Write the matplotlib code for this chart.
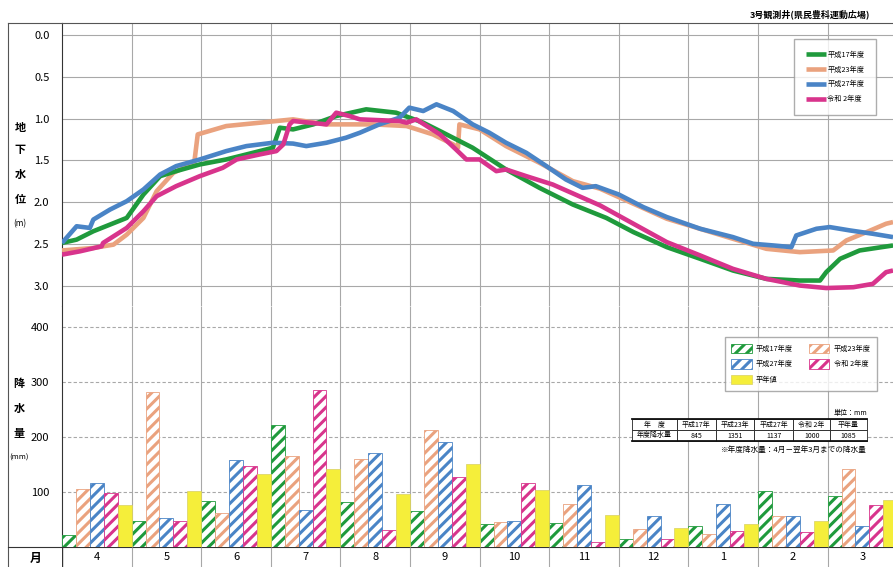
import matplotlib.pyplot as plt
from matplotlib.patches import Patch
from matplotlib.lines import Line2D

plt.rcParams['font.family'] = ['Noto Sans CJK JP', 'DejaVu Sans']
plt.rcParams['hatch.linewidth'] = 2.2

months = ['4', '5', '6', '7', '8', '9', '10', '11', '12', '1', '2', '3']
year_labels = ['平成17年度', '平成23年度', '平成27年度', '令和 2年度']
normal_label = '平年値'

# monthly rainfall (mm)
rain_h17 = [22, 47, 83, 221, 82, 65, 41, 44, 14, 39, 102, 93]
rain_h23 = [106, 282, 62, 165, 160, 212, 45, 79, 32, 24, 56, 141]
rain_h27 = [116, 52, 158, 68, 171, 190, 48, 112, 56, 79, 56, 39]
rain_r2 = [99, 47, 147, 286, 30, 128, 116, 9, 14, 29, 27, 76]
rain_normal = [76, 102, 133, 141, 96, 150, 104, 58, 35, 41, 48, 86]

# groundwater level (m below surface); t = months after 1 April
gw_h17_t = [0.0, 0.21, 0.45, 0.69, 0.93, 1.17, 1.41, 1.64, 1.98, 2.36, 2.65, 3.03, 3.13,
            3.32, 3.61, 3.94, 4.37, 4.80, 5.19, 5.43, 5.90, 6.38, 6.86, 7.34, 7.82, 8.21,
            8.69, 9.17, 9.64, 10.12, 10.60, 10.89, 10.98, 11.18, 11.46, 11.94]
gw_h17 = [2.49, 2.45, 2.35, 2.27, 2.19, 1.91, 1.69, 1.63, 1.55, 1.49, 1.43, 1.35, 1.11,
          1.13, 1.07, 0.97, 0.89, 0.93, 1.05, 1.15, 1.35, 1.61, 1.83, 2.03, 2.19, 2.36,
          2.54, 2.68, 2.82, 2.92, 2.94, 2.94, 2.84, 2.68, 2.58, 2.52]

gw_h23_t = [0.0, 0.45, 0.74, 0.93, 1.17, 1.36, 1.60, 1.90, 1.95, 2.36, 2.84, 3.32, 3.80,
            4.47, 4.95, 5.33, 5.62, 5.69, 5.71, 6.00, 6.38, 6.86, 7.34, 7.73, 8.69, 9.64,
            10.12, 10.60, 11.08, 11.27, 11.56, 11.84, 11.94]
gw_h23 = [2.58, 2.55, 2.51, 2.39, 2.19, 1.87, 1.65, 1.53, 1.19, 1.09, 1.05, 1.01, 1.07,
          1.07, 1.09, 1.19, 1.31, 1.35, 1.07, 1.13, 1.33, 1.53, 1.75, 1.84, 2.20, 2.44,
          2.56, 2.60, 2.58, 2.46, 2.36, 2.26, 2.24]

gw_h27_t = [0.0, 0.21, 0.40, 0.45, 0.69, 0.93, 1.17, 1.41, 1.64, 1.98, 2.36, 2.65, 3.03,
            3.32, 3.51, 3.80, 4.08, 4.28, 4.56, 4.85, 4.99, 5.19, 5.38, 5.62, 5.90, 6.14,
            6.38, 6.67, 6.96, 7.24, 7.48, 7.67, 8.00, 8.35, 8.69, 9.17, 9.64, 9.93, 10.22,
            10.48, 10.55, 10.84, 11.03, 11.32, 11.65, 11.94]
gw_h27 = [2.49, 2.29, 2.31, 2.21, 2.09, 1.99, 1.85, 1.67, 1.57, 1.49, 1.39, 1.33, 1.29,
          1.30, 1.33, 1.29, 1.23, 1.17, 1.07, 0.99, 0.87, 0.91, 0.83, 0.91, 1.07, 1.17,
          1.29, 1.41, 1.57, 1.73, 1.83, 1.81, 1.91, 2.06, 2.18, 2.32, 2.42, 2.50, 2.52,
          2.54, 2.40, 2.32, 2.30, 2.34, 2.38, 2.42]

gw_r2_t = [0.0, 0.26, 0.57, 0.59, 0.93, 1.17, 1.36, 1.64, 1.98, 2.31, 2.51, 2.84, 3.08,
           3.18, 3.27, 3.32, 3.56, 3.80, 3.94, 4.13, 4.28, 4.85, 4.95, 5.09, 5.43, 5.66,
           5.81, 6.00, 6.24, 6.38, 6.67, 7.05, 7.43, 7.73, 8.21, 8.69, 9.17, 9.64, 10.12,
           10.60, 10.98, 11.37, 11.65, 11.84, 11.94]
gw_r2 = [2.63, 2.59, 2.53, 2.49, 2.31, 2.11, 1.93, 1.81, 1.69, 1.59, 1.49, 1.43, 1.39,
         1.31, 1.07, 1.03, 1.05, 1.07, 0.93, 0.97, 1.01, 1.03, 1.05, 1.01, 1.19, 1.37,
         1.49, 1.49, 1.63, 1.61, 1.69, 1.79, 1.93, 2.04, 2.26, 2.48, 2.64, 2.80, 2.92,
         3.00, 3.03, 3.02, 2.98, 2.84, 2.82]

table_cols = ['年　度', '平成17年', '平成23年', '平成27年', '令和 2年', '平年量']
table_vals = ['年度降水量', '845', '1351', '1137', '1000', '1085']

colors = ['#1f9a3c', '#eaa27e', '#4a84c6', '#d8348c']
yellow = '#f5ee3a'
grid_c = '#a8a8a8'
frame_c = '#555555'

W, H = 893, 567
fig = plt.figure(figsize=(W / 100, H / 100), dpi=100)
fig.patch.set_facecolor('white')

def fx(px):
    return px / W

def fy(py):
    return 1 - py / H

left, split, base = 62, 306, 547
xmax = (W - left) / 69.6

ax1 = fig.add_axes([fx(left), fy(split), 1 - fx(left), fy(23) - fy(split)])
ax2 = fig.add_axes([fx(left), fy(base), 1 - fx(left), fy(split) - fy(base)])
ax3 = fig.add_axes([fx(left), 0, 1 - fx(left), fy(base)])

# ---- groundwater level ----
series = [(gw_h17_t, gw_h17), (gw_h23_t, gw_h23), (gw_h27_t, gw_h27), (gw_r2_t, gw_r2)]
zorders = [4, 3, 5, 6]
for (t, v), c, lab, z in zip(series, colors, year_labels, zorders):
    ax1.plot(t, v, color=c, lw=3.3, label=lab, zorder=z, solid_capstyle='butt')

ax1.set_xlim(0, xmax)
ax1.set_ylim(3.245, -0.144)
ax1.set_yticks([0, 0.5, 1.0, 1.5, 2.0, 2.5, 3.0])
ax1.set_yticklabels(['0.0', '0.5', '1.0', '1.5', '2.0', '2.5', '3.0'])
ax1.set_xticks([])
ax1.yaxis.grid(True, color=grid_c, lw=0.8)
ax1.vlines(range(1, 12), 3.245, -0.144, color=grid_c, lw=0.8, zorder=1)
ax1.tick_params(axis='y', length=0, pad=9, labelsize=8)
for s in ['right', 'bottom']:
    ax1.spines[s].set_visible(False)
ax1.spines['left'].set_color('#333333')
ax1.spines['top'].set_color(frame_c)

ax1.legend(loc='upper right', bbox_to_anchor=(fx(876), fy(39)), bbox_transform=fig.transFigure,
           fontsize=5.2, frameon=True, fancybox=False, edgecolor='#999999', borderaxespad=0,
           borderpad=1.6, labelspacing=0.95, handlelength=2.8, handletextpad=0.2)

# ---- rainfall bars ----
rain = [rain_h17, rain_h23, rain_h27, rain_r2]
handles = []
for k, (vals, c, lab) in enumerate(zip(rain, colors, year_labels)):
    xs = [m + k * 0.2 for m in range(12)]
    ax2.bar(xs, vals, width=0.2, align='edge', facecolor='white', edgecolor=c,
            hatch='///', linewidth=0.6, zorder=3)
    handles.append(Patch(facecolor='white', edgecolor=c, hatch='///', lw=0.6, label=lab))
xs = [m + 0.8 for m in range(12)]
ax2.bar(xs, rain_normal, width=0.2, align='edge', facecolor=yellow, edgecolor='#d9d060',
        linewidth=0.5, zorder=3)
handles.append(Patch(facecolor=yellow, edgecolor='#d9d060', lw=0.5, label=normal_label))

ax2.set_xlim(0, xmax)
ax2.set_ylim(0, 438)
ax2.set_yticks([100, 200, 300, 400])
ax2.set_xticks([])
ax2.yaxis.grid(True, color=grid_c, lw=0.8, ls=(0, (3, 2)))
ax2.set_axisbelow(True)
ax2.vlines(range(1, 12), 0, 438, color=grid_c, lw=0.8, zorder=1)
ax2.tick_params(axis='y', length=0, pad=9, labelsize=8)
for s in ['right', 'top']:
    ax2.spines[s].set_visible(False)
ax2.spines['left'].set_color('#333333')
ax2.spines['bottom'].set_color('#333333')

order = [handles[0], handles[2], handles[4], handles[1], handles[3]]
ax2.legend(handles=order, loc='upper right', ncol=2, bbox_to_anchor=(fx(877), fy(337)),
           bbox_transform=fig.transFigure, fontsize=5.2, frameon=True, fancybox=False,
           edgecolor='#999999', borderaxespad=0, borderpad=0.9, labelspacing=0.9,
           handlelength=2.8, handleheight=1.6, handletextpad=0.6, columnspacing=2.2)

# ---- table ----
x0 = (632 - left) / (W - left)
tw = (867 - 632) / (W - left)
y0 = (base - 441) / (base - split)
th = 22 / (base - split)
tbl = ax2.table(cellText=[table_vals], colLabels=table_cols, cellLoc='center',
                colWidths=[46, 40, 40, 40, 38, 38], bbox=[x0, y0, tw, th])
tbl.auto_set_font_size(False)
tbl.set_fontsize(5)
tbl.set_zorder(6)
for cell in tbl.get_celld().values():
    cell.set_linewidth(0.6)
    cell.set_edgecolor('#222222')
    cell.set_facecolor('white')
for yy in [y0, y0 + th]:
    ax2.plot([x0, x0 + tw], [yy, yy], transform=ax2.transAxes, color='#111111', lw=1.3,
             zorder=7, clip_on=False)
ax2.text(x0 + tw, (base - 413) / (base - split), '単位：mm', transform=ax2.transAxes,
         ha='right', va='center', fontsize=5, zorder=7)
ax2.text(x0 + tw, (base - 450) / (base - split), '※年度降水量：4月－翌年3月までの降水量',
         transform=ax2.transAxes, ha='right', va='center', fontsize=5.5, zorder=7)

# ---- month row ----
ax3.set_xlim(0, xmax)
ax3.set_ylim(0, 1)
ax3.axis('off')
ax3.vlines(range(1, 12), 0, 1, color=grid_c, lw=0.8)
ax3.axvline(0, color='#333333', lw=1.0)
for i, m in enumerate(months):
    ax3.text(i + 0.5, 0.5, m, ha='center', va='center', fontsize=8)

# ---- left label column / frame ----
fig.add_artist(Line2D([fx(8), fx(8)], [fy(23), 0], color=frame_c, lw=0.8))
fig.add_artist(Line2D([fx(8), fx(left)], [fy(23), fy(23)], color=frame_c, lw=0.8))
fig.add_artist(Line2D([fx(8), fx(left)], [fy(base), fy(base)], color='#333333', lw=0.8))

for ch, py in zip(['地', '下', '水', '位'], [128, 150, 174, 199]):
    fig.text(fx(20), fy(py), ch, ha='center', va='center', fontsize=8, fontweight='bold')
fig.text(fx(20), fy(224), '(m)', ha='center', va='center', fontsize=6)
for ch, py in zip(['降', '水', '量'], [383, 408, 434]):
    fig.text(fx(19), fy(py), ch, ha='center', va='center', fontsize=8, fontweight='bold')
fig.text(fx(19), fy(458), '(mm)', ha='center', va='center', fontsize=5.5)
fig.text(fx(36), fy(558), '月', ha='center', va='center', fontsize=8.5, fontweight='bold')

fig.text(fx(870), fy(14), '3号観測井(県民豊科運動広場)', ha='right', va='center',
         fontsize=6.5, fontweight='bold')

fig.savefig('out.png', dpi=100)
